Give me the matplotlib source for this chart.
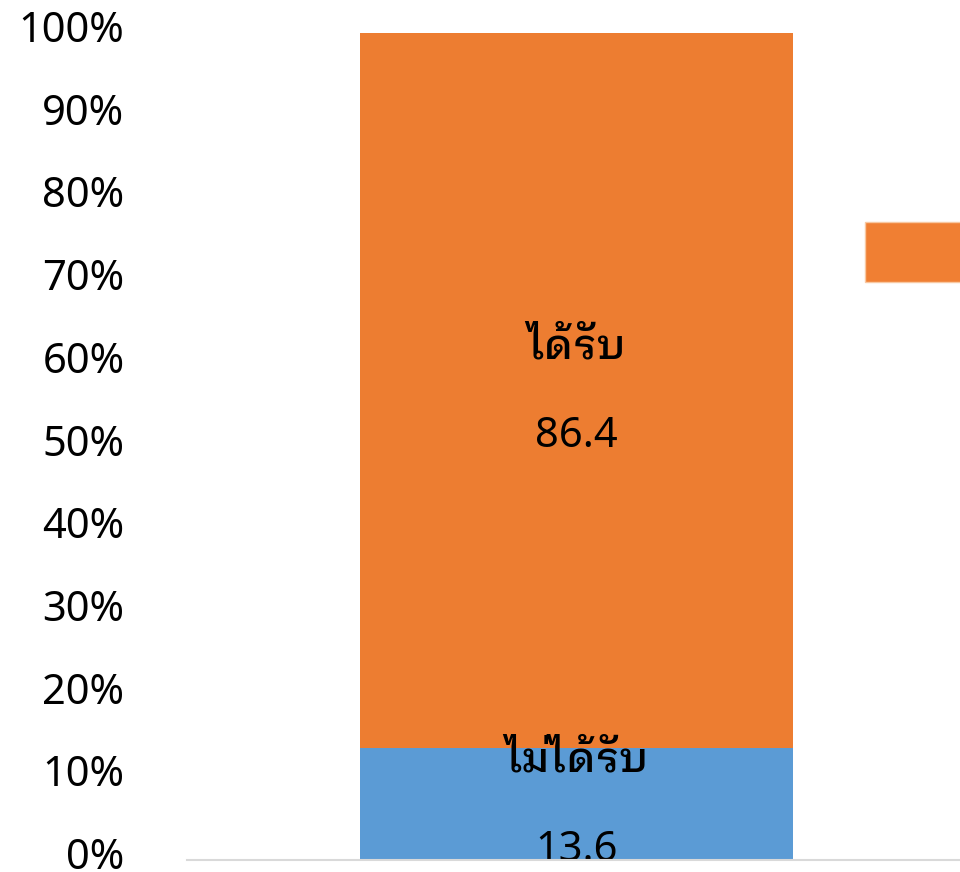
import matplotlib
matplotlib.use("Agg")
import matplotlib.pyplot as plt
import matplotlib.patches as mpatches
import matplotlib.transforms as mtransforms
from matplotlib.ticker import PercentFormatter

# Share of respondents who did / did not receive it (percent)
categories = ['']
series_names = ['ไม่ได้รับ', 'ได้รับ']
series_values = [[13.6], [86.4]]
series_colors = ['#5B9BD5', '#ED7D31']
y_ticks = list(range(0, 101, 10))

plt.rcParams['font.family'] = ['Noto Sans', 'IBM Plex Sans Thai Looped', 'DejaVu Sans']

fig = plt.figure(figsize=(9.6, 8.72), dpi=100)
ax = fig.add_axes([187 / 960, 12 / 872, 773 / 960, 827 / 872])

bottom = [0.0] * len(categories)
for name, vals, color in zip(series_names, series_values, series_colors):
    bars = ax.bar(range(len(categories)), vals, width=0.56, bottom=bottom,
                  color=color, label=name, zorder=2)
    for rect, v in zip(bars, vals):
        cx = rect.get_x() + rect.get_width() / 2
        cy = rect.get_y() + rect.get_height() / 2
        ax.annotate(name, (cx, cy), xytext=(0, 31), textcoords='offset points',
                    ha='center', va='center', fontsize=30, color='black',
                    fontweight='medium')
        ax.annotate(f'{v:.1f}', (cx, cy), xytext=(0, -33), textcoords='offset points',
                    ha='center', va='center', fontsize=30, color='black')
    bottom = [b + v for b, v in zip(bottom, vals)]

ax.set_xlim(-0.504, 0.496)
ax.set_ylim(0, 100)
ax.set_yticks(y_ticks)
ax.yaxis.set_major_formatter(PercentFormatter(decimals=0))
ax.tick_params(axis='y', length=0, pad=45, labelsize=30)
ax.tick_params(axis='x', length=0, labelbottom=False)

# nudge the percent labels up a little
shift = mtransforms.ScaledTranslation(0, 7 / 100, fig.dpi_scale_trans)
for lbl in ax.get_yticklabels():
    lbl.set_transform(lbl.get_transform() + shift)

for side in ['left', 'right', 'top']:
    ax.spines[side].set_visible(False)
ax.spines['bottom'].set_color('#D9D9D9')
ax.spines['bottom'].set_linewidth(1.5)
ax.spines['bottom'].set_zorder(3)

# legend sits to the right of the plot area
handle = mpatches.Patch(facecolor='#F07F33', edgecolor='#F8C8A2', linewidth=1)
fig.legend([handle], [series_names[1]], loc='upper left',
           bbox_to_anchor=(865 / 960, 1 - 222 / 872), frameon=False,
           borderpad=0, borderaxespad=0, fontsize=20,
           handleheight=2.95, handlelength=7.5)

fig.savefig('out.png', dpi=100)
